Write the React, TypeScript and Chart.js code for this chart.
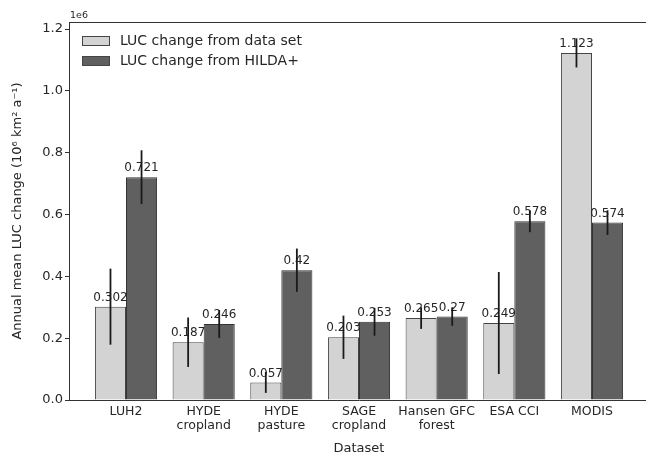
import React, { useEffect, useRef } from "react";
import { Chart, registerables } from "chart.js";

Chart.register(...registerables);

const categories: string[][] = [
  ["LUH2"],
  ["HYDE", "cropland"],
  ["HYDE", "pasture"],
  ["SAGE", "cropland"],
  ["Hansen GFC", "forest"],
  ["ESA CCI"],
  ["MODIS"],
];
const seriesLabels = ["LUC change from data set", "LUC change from HILDA+"];
const dataSetValues = [0.302, 0.187, 0.057, 0.203, 0.265, 0.249, 1.123];
const dataSetErrors = [0.123, 0.08, 0.034, 0.07, 0.035, 0.165, 0.047];
const hildaValues = [0.721, 0.246, 0.42, 0.253, 0.27, 0.578, 0.574];
const hildaErrors = [0.087, 0.045, 0.07, 0.045, 0.03, 0.035, 0.04];
const yTicks = [0, 0.2, 0.4, 0.6, 0.8, 1.0, 1.2];

const FONT = "'DejaVu Sans', sans-serif";
const TEXT = "#262626";

const overlay = {
  id: "overlay",
  afterDatasetsDraw(chart: any) {
    const ctx = chart.ctx as CanvasRenderingContext2D;
    const { left, right, top, bottom } = chart.chartArea;
    const ys = chart.scales.y;
    ctx.save();
    // top and right spines
    ctx.strokeStyle = "#333";
    ctx.lineWidth = 1;
    ctx.beginPath();
    ctx.moveTo(left, top + 0.5);
    ctx.lineTo(right, top + 0.5);
    ctx.moveTo(right - 0.5, top);
    ctx.lineTo(right - 0.5, bottom);
    ctx.stroke();

    // bar labels
    chart.data.datasets.forEach((ds: any, di: number) => {
      const meta = chart.getDatasetMeta(di);
      meta.data.forEach((bar: any, i: number) => {
        const v = ds.data[i].y;
        ctx.fillStyle = TEXT;
        ctx.font = `12px ${FONT}`;
        ctx.textAlign = "center";
        ctx.textBaseline = "bottom";
        ctx.fillText(String(v), bar.x, bar.y - 3);
      });
    });
    // error bars
    chart.data.datasets.forEach((ds: any, di: number) => {
      const meta = chart.getDatasetMeta(di);
      meta.data.forEach((bar: any, i: number) => {
        const v = ds.data[i].y;
        const e = ds.errors[i];
        const y1 = ys.getPixelForValue(v - e);
        const y2 = ys.getPixelForValue(v + e);
        ctx.strokeStyle = "#1a1a1a";
        ctx.lineWidth = 1.8;
        ctx.beginPath();
        ctx.moveTo(bar.x, y1);
        ctx.lineTo(bar.x, y2);
        ctx.stroke();
      });
    });

    // legend
    chart.data.datasets.forEach((ds: any, di: number) => {
      const cy = top + 19 + di * 20;
      ctx.fillStyle = ds.backgroundColor;
      ctx.strokeStyle = "#444";
      ctx.lineWidth = 1;
      ctx.fillRect(left + 13, cy - 5, 28, 10);
      ctx.strokeRect(left + 13.5, cy - 4.5, 27, 9);
      ctx.fillStyle = TEXT;
      ctx.font = `14px ${FONT}`;
      ctx.textAlign = "left";
      ctx.textBaseline = "middle";
      ctx.fillText(ds.label, left + 51, cy);
    });

    // scale multiplier
    ctx.fillStyle = TEXT;
    ctx.font = `9.5px ${FONT}`;
    ctx.textAlign = "left";
    ctx.textBaseline = "bottom";
    ctx.fillText("1e6", left + 1, top - 2);
    ctx.restore();
  },
};

export default function App() {
  const ref = useRef<HTMLCanvasElement | null>(null);
  useEffect(() => {
    if (!ref.current) return;
    const chart = new Chart(ref.current, {
      type: "bar",
      data: {
        datasets: [
          {
            label: seriesLabels[0],
            data: dataSetValues.map((v, i) => ({ x: i, y: v })),
            errors: dataSetErrors,
            backgroundColor: "#d3d3d3",
            borderColor: "#444",
            borderWidth: 1,
            categoryPercentage: 0.8,
            barPercentage: 1,
          } as any,
          {
            label: seriesLabels[1],
            data: hildaValues.map((v, i) => ({ x: i, y: v })),
            errors: hildaErrors,
            backgroundColor: "#606060",
            borderColor: "#333",
            borderWidth: 1,
            categoryPercentage: 0.8,
            barPercentage: 1,
          } as any,
        ],
      },
      options: {
        animation: false,
        responsive: false,
        devicePixelRatio: 1,
        layout: { padding: { left: 0, top: 22, right: 11, bottom: 0 } },
        plugins: { legend: { display: false }, tooltip: { enabled: false } },
        scales: {
          x: {
            type: "linear",
            min: -0.734,
            max: 6.734,
            offset: false,
            afterBuildTicks: (s: any) => {
              s.ticks = categories.map((_, i) => ({ value: i }));
            },
            afterFit: (s: any) => {
              s.height = 56;
            },
            grid: { display: false, drawTicks: false, tickLength: 0 },
            border: { display: true, color: "#333", width: 1 },
            ticks: {
              autoSkip: false,
              maxRotation: 0,
              padding: 5,
              color: TEXT,
              font: { family: FONT, size: 12.5, lineHeight: 1.12 },
              callback: (v: any) => categories[Number(v)],
            },
            title: {
              display: true,
              text: "Dataset",
              color: TEXT,
              font: { family: FONT, size: 13 },
              padding: { top: 0, bottom: 0 },
            },
          },
          y: {
            type: "linear",
            min: 0,
            max: 1.223,
            afterBuildTicks: (s: any) => {
              s.ticks = yTicks.map((v) => ({ value: v }));
            },
            afterFit: (s: any) => {
              s.width = 69;
            },
            grid: { drawOnChartArea: false, drawTicks: true, tickLength: 4, color: "#333" },
            border: { display: true, color: "#333", width: 1 },
            ticks: {
              padding: 2,
              color: TEXT,
              font: { family: FONT, size: 13 },
              callback: (v: any) => Number(v).toFixed(1),
            },
            title: {
              display: true,
              text: "Annual mean LUC change (10⁶ km² a⁻¹)",
              color: TEXT,
              font: { family: FONT, size: 13 },
              padding: { top: 10, bottom: 0 },
            },
          },
        },
      } as any,
      plugins: [overlay],
    });
    return () => chart.destroy();
  }, []);
  return (
    <div
      style={{
        position: "fixed",
        left: 0,
        top: 0,
        width: 646,
        height: 456,
        overflow: "hidden",
        background: "#fff",
      }}
    >
      <canvas ref={ref} width={660} height={456} style={{ display: "block" }} />
    </div>
  );
}
